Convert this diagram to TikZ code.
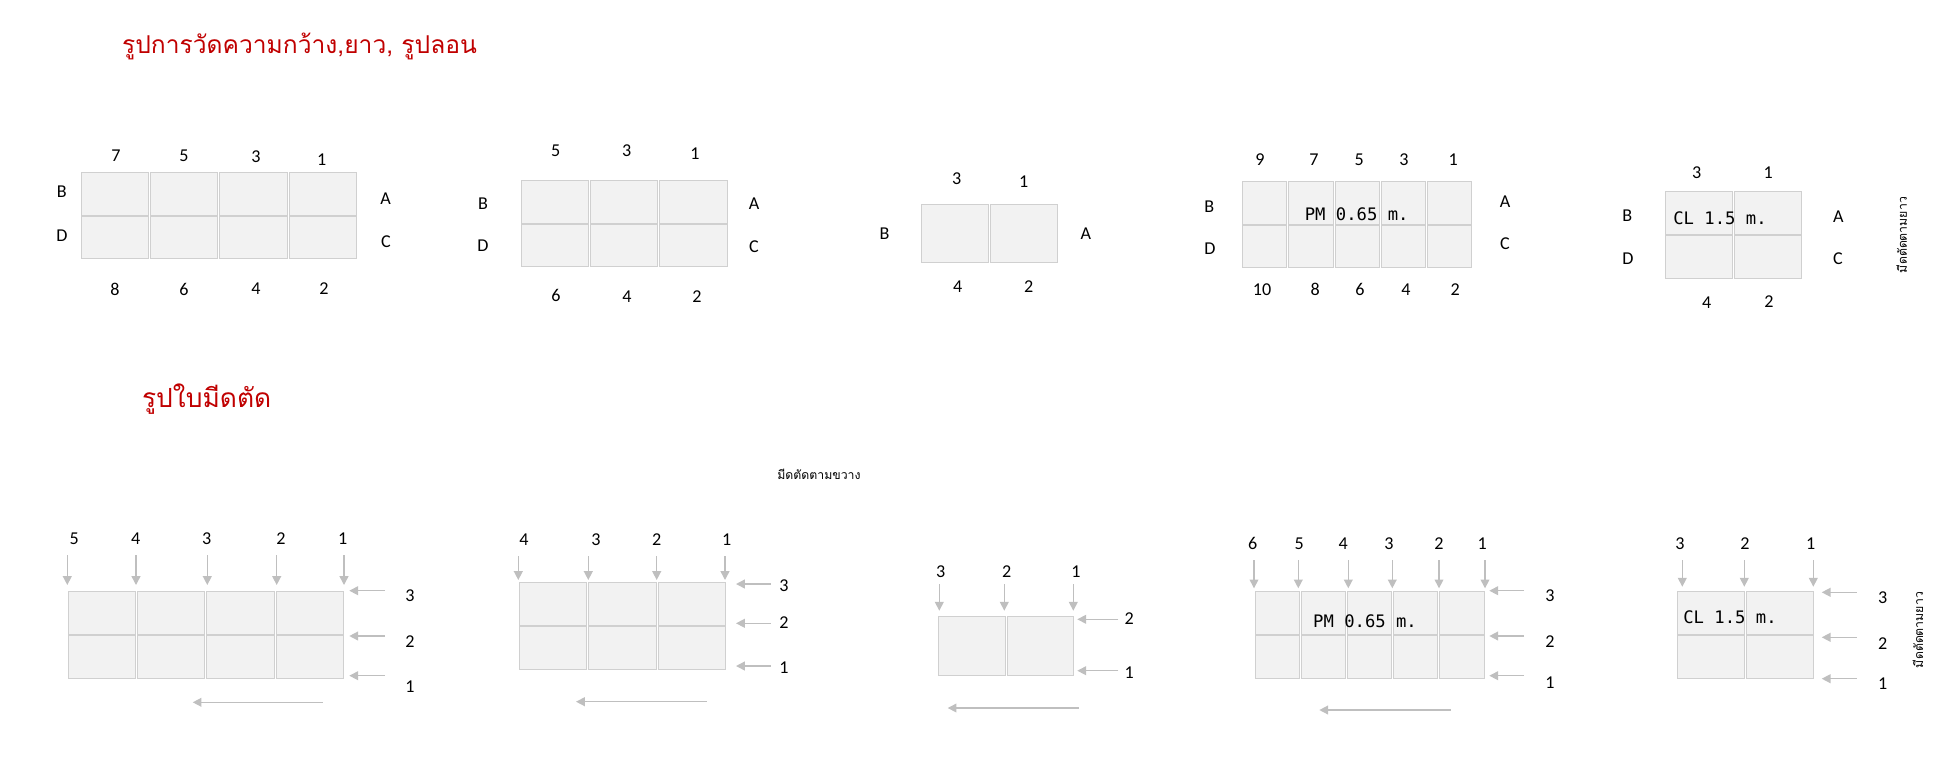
\documentclass[tikz,border=0pt]{standalone}
\usepackage{fontspec}
\setmainfont{Carlito}
\newfontfamily\thaifont[Script=Thai]{Loma}
\newfontfamily\monofont{DejaVu Sans Mono}
\usetikzlibrary{arrows.meta}
\definecolor{cellfill}{RGB}{242,242,242}
\definecolor{cellline}{RGB}{208,208,208}
\definecolor{cutgrey}{RGB}{191,191,191}
\definecolor{titlered}{RGB}{192,0,0}

% one block of cells: name, left, top, columns, rows, column pitch, row pitch
\newcommand{\cellgrid}[7]{%
  \foreach \r in {1,...,#5}{
    \foreach \c in {1,...,#4}{
      \node[cell, minimum width={(#6-2)*0.02cm}, minimum height={(#7-1)*0.02cm}]
        (#1-\r-\c) at ({#2+(\c-0.5)*#6}, {#3+(\r-0.5)*#7}) {};
    }
  }
}

\tikzset{
  cell/.style={draw=cellline, fill=cellfill, line width=0.55pt, inner sep=0pt, rectangle},
  lbl/.style={font=\fontsize{10.3}{12}\selectfont, inner sep=0pt},
  cut/.style={draw=cutgrey, line width=0.8pt, -{Triangle[length=5pt,width=5pt]}},
  size/.style={font=\monofont\fontsize{9.8}{12}\selectfont, inner sep=0pt},
  heading/.style={font=\thaifont\fontsize{15}{18}\selectfont, text=titlered, inner sep=0pt},
  note/.style={font=\thaifont\fontsize{7}{8}\selectfont, inner sep=0pt}
}

\begin{document}
\begin{tikzpicture}[x=0.02cm, y=-0.02cm]
\useasboundingbox (0,0) rectangle (1948,772);

% Headings
\node[heading, font=\thaifont\fontsize{14}{17}\selectfont, anchor=base west] (headmeasure) at (121.7,53.5) {รูปการวัดความกว้าง,ยาว, รูปลอน};
\node[heading, anchor=base west] (headblade) at (141.7,407) {รูปใบมีดตัด};
\node[note, anchor=base west] (crossnote) at (777,479) {มีดตัดตามขวาง};
\node[note, rotate=90] (longnote) at (1901.7,235) {มีดตัดตามยาว};
\node[note, rotate=90] (longnotetwo) at (1918,630) {มีดตัดตามยาว};

% Measuring grids
\cellgrid{ga}{80}{171.7}{4}{2}{69.4}{43.8}
\cellgrid{gb}{520.3}{180}{3}{2}{69.3}{43.7}
\cellgrid{gc}{920.6}{203.7}{2}{1}{68.9}{59.7}
\cellgrid{gd}{1241.7}{181}{5}{2}{46.2}{43.7}
\cellgrid{ge}{1664.3}{191.3}{2}{2}{68.9}{43.9}

\foreach \x/\y/\t in {116/156/7, 184/156/5, 256/157/3, 321.7/160/1, 115/289/8, 184/289/6,
    256/289/4, 324/289/2, 61.7/192/B, 62/236/D, 385.7/199/A, 386/241.7/C}
  \node[lbl] (ga-\t) at (\x,\y) {\t};
\foreach \x/\y/\t in {555.7/150.7/5, 626.7/151/3, 695/154/1, 556/295/6, 627/297/4, 697/297/2,
    483/204/B, 483/245.7/D, 754/204/A, 754/247/C}
  \node[lbl] (gb-\t) at (\x,\y) {\t};
\foreach \x/\y/\t in {956.6/178.9/3, 1023.7/181.4/1, 957.8/287/4, 1028.6/287/2,
    884.5/233.6/B, 1085.8/233.6/A}
  \node[lbl] (gc-\t) at (\x,\y) {\t};
\foreach \x/\y/\t in {1260/159.3/9, 1314/159.3/7, 1359.3/159.3/5, 1404/159.3/3, 1453.3/159.3/1,
    1262/289.3/10, 1315.3/289.3/8, 1360/289.3/6, 1406/289.3/4, 1455.3/289.3/2,
    1209.3/206.7/B, 1210/248.3/D, 1505/201.7/A, 1505/244/C}
  \node[lbl] (gd-\t) at (\x,\y) {\t};
\foreach \x/\y/\t in {1696.7/172.7/3, 1768.3/172.7/1, 1706.7/302.7/4, 1769/301.3/2,
    1627.3/216/B, 1628/258.3/D, 1838.3/216.7/A, 1838/259/C}
  \node[lbl] (ge-\t) at (\x,\y) {\t};

\node[size] (gd-text) at (1356.7,214.3) {PM 0.65 m.};
\node[size] (ge-text) at (1720,218.3) {CL 1.5 m.};

% Blade grids
\cellgrid{ka}{67.3}{591}{4}{2}{69.25}{43.85}
\cellgrid{kb}{518.3}{581.7}{3}{2}{69.5}{44.15}
\cellgrid{kc}{937.3}{616}{2}{1}{68.7}{60}
\cellgrid{kd}{1254}{591}{5}{2}{46.2}{44}
\cellgrid{ke}{1676}{591}{2}{2}{69}{44}

\node[size] (kd-text) at (1365,621.7) {PM 0.65 m.};
\node[size] (ke-text) at (1730,617.3) {CL 1.5 m.};

% Labels of the cuts
\foreach \x/\t in {74.3/5, 135.7/4, 206.7/3, 281/2, 342.7/1}
  \node[lbl] (ka-t\t) at (\x,538.3) {\t};
\foreach \y/\t in {596/3, 641.7/2, 686.7/1}
  \node[lbl] (ka-r\t) at (410,\y) {\t};
\foreach \x/\t in {524/4, 596/3, 656.7/2, 726.7/1}
  \node[lbl] (kb-t\t) at (\x,539.3) {\t};
\foreach \y/\t in {586/3, 622.7/2, 667.3/1}
  \node[lbl] (kb-r\t) at (784,\y) {\t};
\foreach \x/\t in {940.7/3, 1006.7/2, 1076/1}
  \node[lbl] (kc-t\t) at (\x,571.7) {\t};
\foreach \y/\t in {618.3/2, 672.7/1}
  \node[lbl] (kc-r\t) at (1129.3,\y) {\t};
\foreach \x/\t in {1252.7/6, 1299.3/5, 1343.3/4, 1389/3, 1439/2, 1482.3/1}
  \node[lbl] (kd-t\t) at (\x,543.3) {\t};
\foreach \y/\t in {596/3, 641.7/2, 682.7/1}
  \node[lbl] (kd-r\t) at (1550,\y) {\t};
\foreach \x/\t in {1680/3, 1745/2, 1810.7/1}
  \node[lbl] (ke-t\t) at (\x,543.3) {\t};
\foreach \y/\t in {597.3/3, 643.3/2, 684/1}
  \node[lbl] (ke-r\t) at (1882.7,\y) {\t};

% Cut arrows
\foreach \x in {67.3, 136, 207.3, 276.7, 344}
  \draw[cut] (\x,555) -- (\x,585);
\foreach \y in {590.7, 636, 675.7}
  \draw[cut] (385,\y) -- (349.3,\y);
\draw[cut] (322.7,702.3) -- (192.7,702.3);

\foreach \x in {518.3, 588.3, 656.7, 725}
  \draw[cut] (\x,556) -- (\x,580);
\foreach \y in {584, 623.3, 666}
  \draw[cut] (770.7,\y) -- (736,\y);
\draw[cut] (706.7,701.7) -- (576,701.7);

\foreach \x in {939.3, 1004.3, 1073.3}
  \draw[cut] (\x,584) -- (\x,610.7);
\foreach \y in {619.3, 670.7}
  \draw[cut] (1118.3,\y) -- (1077.3,\y);
\draw[cut] (1079,708) -- (947.7,708);

\foreach \x in {1254, 1298.3, 1348.3, 1392.3, 1439, 1485}
  \draw[cut] (\x,560) -- (\x,588.3);
\foreach \y in {590.7, 636, 675.7}
  \draw[cut] (1524,\y) -- (1489.3,\y);
\draw[cut] (1450.7,710) -- (1319.3,710);

\foreach \x in {1682.3, 1744.3, 1813.3}
  \draw[cut] (\x,560) -- (\x,586.7);
\foreach \y in {592.3, 637.3, 678.7}
  \draw[cut] (1856.7,\y) -- (1821.7,\y);
\end{tikzpicture}
\end{document}
